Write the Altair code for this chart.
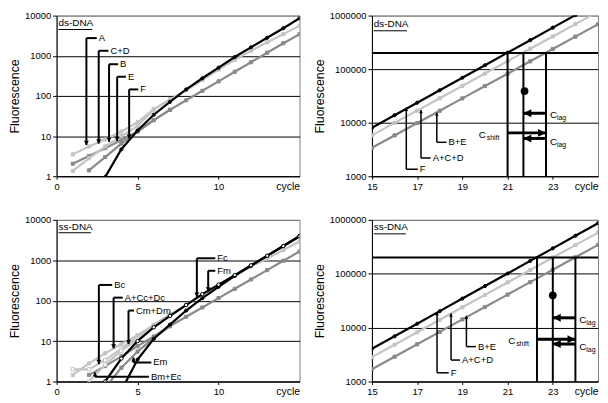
import altair as alt
import pandas as pd

FONT = "Liberation Sans"
LIGHT = "#c4c4c4"
MID = "#8a8a8a"
BLACK = "#000000"

# ---------------- Panel 1 (top-left): ds-DNA, early cycles ----------------
ds1_A_cyc = [1, 2, 3, 4, 5, 6, 7, 8, 9, 10, 11, 12, 13, 14, 15]
ds1_A_val = [3.5, 5.5, 8.2, 13, 22, 47, 82, 138, 248, 450, 790, 1330, 2150, 3450, 5600]
ds1_CD_cyc = [1, 2, 3, 4, 5, 6, 7]
ds1_CD_val = [1.36, 2.8, 5.5, 10, 18, 45, 82]
ds1_B_cyc = [1, 2, 3, 4, 5, 6, 7, 8, 9, 10, 11, 12, 13, 14, 15]
ds1_B_val = [2.05, 3.2, 5.0, 8.0, 13, 25, 45, 78, 134, 230, 400, 690, 1190, 2050, 3450]
ds1_E_cyc = [2, 3, 4, 5, 6, 7]
ds1_E_val = [1.4, 3.0, 6.5, 13, 25, 45]
ds1_F_cyc = [3, 4, 5, 6, 7, 8, 9, 10, 11, 12, 13, 14, 15]
ds1_F_val = [0.95, 4.7, 13.8, 34, 71, 145, 275, 505, 930, 1620, 2800, 4850, 8600]

ds1_arrow_label = ["A", "C+D", "B", "E", "F"]
ds1_arrow_x = [1.84, 2.6, 3.24, 3.74, 4.48]
ds1_arrow_anchor = [2750, 1330, 615, 300, 145]
ds1_arrow_tip = [6.0, 6.5, 7.2, 7.5, 8.7]
ds1_arrow_end = [2.48, 3.2, 3.8, 4.28, 5.04]

# ---------------- Panel 2 (top-right): ds-DNA, late cycles ----------------
ds2_cyc = [15, 16, 17, 18, 19, 20, 21, 22, 23, 24, 25]
ds2_F_val = [8050, 13800, 23600, 40400, 69200, 118000, 203000, 347000, 595000, 1020000, 1740000]
ds2_ACD_val = [5800, 9900, 16800, 28600, 48600, 82700, 141000, 240000, 408000, 693000, 1180000]
ds2_BE_val = [3400, 5780, 9830, 16700, 28400, 48300, 82100, 140000, 238000, 404000, 687000]

ds2_arrow_label = ["F", "A+C+D", "B+E"]
ds2_arrow_x = [16.52, 17.17, 17.87]
ds2_arrow_anchor = [1350, 2190, 4300]
ds2_arrow_tip = [18900, 17200, 15400]
ds2_arrow_end = [17.03, 17.6, 18.3]

ds2_threshold = [200000]
ds2_ct_x = [21.0, 21.7, 22.7]
ds2_dot_x = [21.75]
ds2_dot_y = [39000]
ds2_c_from = [22.7, 21.0, 22.7]
ds2_c_to = [21.7, 22.7, 21.7]
ds2_c_y = [15000, 6450, 5080]
ds2_c_label_x = [22.7, 21.0, 22.7]
ds2_c_label_y = [14000, 5970, 4440]
ds2_c_sub = ["lag", "shift", "lag"]

# ---------------- Panel 3 (bottom-left): ss-DNA, early cycles ----------------
ss1_Bc_cyc = [1, 2, 3, 4, 5, 6, 7]
ss1_Bc_val = [2.0, 2.0, 3.4, 6.5, 13, 25, 45]
ss1_ACD_cyc = [1, 2, 3, 4, 5, 6, 7, 8, 9, 10, 11, 12, 13, 14, 15]
ss1_ACD_val = [1.45, 2.8, 5.0, 8.5, 14, 25, 45, 80, 140, 245, 420, 700, 1100, 1800, 2900]
ss1_CmDm_cyc = [2, 3, 4, 5, 6, 7, 8]
ss1_CmDm_val = [1.0, 2.6, 5.8, 11, 22, 42, 80]
ss1_BmEc_cyc = [2, 3, 4, 5, 6, 7, 8, 9, 10, 11, 12, 13, 14, 15]
ss1_BmEc_val = [1.45, 2.4, 4.2, 7.5, 13, 23.5, 40, 68, 116, 197, 335, 570, 970, 1650]
ss1_Em_cyc = [3, 4, 5, 6, 7]
ss1_Em_val = [0.7, 2.2, 5.5, 12, 23.5]
ss1_Fc_cyc = [3, 4, 5, 6, 7, 8, 9, 10, 11, 12, 13, 14, 15]
ss1_Fc_val = [1.0, 3.7, 10, 22, 42, 78, 145, 250, 430, 750, 1300, 2250, 3900]
ss1_Fm_cyc = [4, 5, 6, 7, 8, 9, 10, 11, 12, 13, 14, 15]
ss1_Fm_val = [0.6, 3.5, 11.4, 25.6, 57, 115, 220, 410, 730, 1280, 2250, 4000]

ss1_down_label = ["Bc", "A+Cc+Dc", "Cm+Dm", "Fc", "Fm"]
ss1_down_x = [2.61, 3.52, 4.44, 8.66, 9.36]
ss1_down_anchor = [245, 119, 57, 1120, 550]
ss1_down_tip = [2.7, 6.6, 8.4, 125, 170]
ss1_down_end = [3.43, 4.08, 4.78, 9.8, 9.8]
ss1_up_label = ["Em", "Bm+Ec"]
ss1_up_x = [4.75, 2.37]
ss1_up_anchor = [2.95, 1.31]
ss1_up_tip = [3.9, 1.66]
ss1_up_end = [5.85, 5.7]

# ---------------- Panel 4 (bottom-right): ss-DNA, late cycles ----------------
ss2_cyc = [15, 16, 17, 18, 19, 20, 21, 22, 23, 24, 25]
ss2_F_val = [4050, 6900, 11800, 20200, 34600, 59100, 101000, 173000, 296000, 506000, 865000]
ss2_ACD_val = [2830, 4820, 8200, 14000, 23800, 40500, 69000, 117000, 200000, 340000, 580000]
ss2_BE_val = [1690, 2880, 4900, 8330, 14200, 24100, 41000, 69900, 119000, 202000, 344000]

ss2_arrow_label = ["F", "A+C+D", "B+E"]
ss2_arrow_x = [17.88, 18.5, 19.18]
ss2_arrow_anchor = [1450, 2500, 4440]
ss2_arrow_tip = [19500, 18200, 16600]
ss2_arrow_end = [18.4, 18.9, 19.6]

ss2_threshold = [200000]
ss2_ct_x = [22.3, 23.0, 24.0]
ss2_dot_x = [23.0]
ss2_dot_y = [39700]
ss2_c_from = [24.0, 22.3, 24.0]
ss2_c_to = [23.0, 24.0, 23.0]
ss2_c_y = [15200, 6080, 4960]
ss2_c_label_x = [24.0, 22.3, 24.0]
ss2_c_label_y = [13800, 5530, 4320]
ss2_c_sub = ["lag", "shift", "lag"]

# panel tags
tag_text = ["ds-DNA", "ds-DNA", "ss-DNA", "ss-DNA"]
tag_x = [0.12, 15.08, 0.12, 15.08]
tag_y = [6400, 690000, 6700, 735000]
tag_line_y = [4500, 520000, 4800, 550000]
tag_line_x2 = [2.2, 16.55, 2.12, 16.5]

x_left_ticks = [0, 5, 10]
x_right_ticks = [15, 17, 19, 21, 23]
y_left_ticks = [1, 10, 100, 1000, 10000]
y_right_ticks = [1000, 10000, 100000, 1000000]

DOWN = "M0,0L-1,-1.7L1,-1.7Z"
UP = "M0,0L-1,1.7L1,1.7Z"
LEFT = "M0,0L2,-1L2,1Z"
RIGHT = "M0,0L-2,-1L-2,1Z"


def x_enc(dom, vals, W):
    return alt.X("x:Q", scale=alt.Scale(domain=dom, nice=False, zero=False),
                 axis=alt.Axis(values=vals, format="d", title="cycle", titleX=W, titleY=5,
                               titleAlign="right", titleBaseline="top", titleFont=FONT,
                               titleFontSize=10.5, titleFontWeight="normal", titleColor="black",
                               labelFont=FONT, labelFontSize=9.5, labelColor="black",
                               labelPadding=2, labelFlush=False, labelOverlap=False,
                               tickSize=3, tickColor="black", domainColor="black", grid=False))


def y_enc(dom, vals):
    return alt.Y("y:Q", scale=alt.Scale(type="log", domain=dom, nice=False),
                 axis=alt.Axis(values=vals, format="d", title="Fluorescence", titleFont=FONT,
                               titleFontSize=12.5, titleFontWeight="normal", titleColor="black",
                               titlePadding=3, labelFont=FONT, labelFontSize=9.5,
                               labelColor="black", labelPadding=2, labelFlush=False,
                               labelOverlap=False, tickSize=4, tickColor="black",
                               domainColor="black", grid=True, gridWidth=1,
                               gridColor={"condition": {"test": "datum.value >= %d" % (dom[1] * 0.99),
                                                        "value": "#808080"},
                                          "value": "black"}))


def series_layers(series, X, Y):
    out = []
    for cyc, vals, color, shape, open_marker, msize in series:
        base = alt.Chart(pd.DataFrame({"x": cyc, "y": vals}))
        out.append(base.mark_line(color=color, strokeWidth=2.2, clip=True).encode(x=X, y=Y))
        out.append(base.mark_point(shape=shape, filled=True, fill="white" if open_marker else color,
                                   stroke=color, strokeWidth=1, size=msize, opacity=1,
                                   clip=True).encode(x=X, y=Y))
    return out


def arrow_layers(labels, xs, anchors, tips, ends, head, X, Y, sw, hsize):
    segs = pd.DataFrame({"x": xs + xs, "x2": xs + ends,
                         "y": anchors + anchors, "y2": tips + anchors})
    heads = pd.DataFrame({"x": xs, "y": tips})
    texts = pd.DataFrame({"x": ends, "y": anchors, "t": labels})
    return [
        alt.Chart(segs).mark_rule(color="black", strokeWidth=sw).encode(
            x=X, y=Y, x2=alt.X2("x2"), y2=alt.Y2("y2")),
        alt.Chart(heads).mark_point(shape=head, filled=True, color="black", size=hsize,
                                    strokeWidth=0, opacity=1).encode(x=X, y=Y),
        alt.Chart(texts).mark_text(align="left", baseline="middle", dx=2, font=FONT,
                                   fontSize=9.5, color="black").encode(x=X, y=Y, text="t:N"),
    ]


def threshold_layers(thr, ymin, ct_x, dot_x, dot_y, c_from, c_to, c_y, lab_x, lab_y, subs, X, Y):
    out = []
    out.append(alt.Chart(pd.DataFrame({"y": thr})).mark_rule(color="black", strokeWidth=2)
               .encode(y=Y))
    out.append(alt.Chart(pd.DataFrame({"x": ct_x, "y": [ymin] * len(ct_x), "y2": thr * len(ct_x)}))
               .mark_rule(color="black", strokeWidth=2).encode(x=X, y=Y, y2=alt.Y2("y2")))
    out.append(alt.Chart(pd.DataFrame({"x": dot_x, "y": dot_y}))
               .mark_circle(color="black", size=62, opacity=1).encode(x=X, y=Y))
    out.append(alt.Chart(pd.DataFrame({"x": c_from, "x2": c_to, "y": c_y}))
               .mark_rule(color="black", strokeWidth=3).encode(x=X, x2=alt.X2("x2"), y=Y))
    left = pd.DataFrame({"x": [t for f, t in zip(c_from, c_to) if t < f],
                         "y": [y for f, t, y in zip(c_from, c_to, c_y) if t < f]})
    right = pd.DataFrame({"x": [t for f, t in zip(c_from, c_to) if t > f],
                          "y": [y for f, t, y in zip(c_from, c_to, c_y) if t > f]})
    out.append(alt.Chart(left).mark_point(shape=LEFT, filled=True, color="black", size=64,
                                          strokeWidth=0, opacity=1).encode(x=X, y=Y))
    out.append(alt.Chart(right).mark_point(shape=RIGHT, filled=True, color="black", size=64,
                                           strokeWidth=0, opacity=1).encode(x=X, y=Y))
    for i in range(len(subs)):
        is_left = subs[i] == "shift"
        d = pd.DataFrame({"x": [lab_x[i]], "y": [lab_y[i]], "c": ["C"], "s": [subs[i]]})
        out.append(alt.Chart(d).mark_text(align="left", baseline="middle",
                                          dx=-29 if is_left else 4, font=FONT, fontSize=10,
                                          color="black").encode(x=X, y=Y, text="c:N"))
        out.append(alt.Chart(d).mark_text(align="left", baseline="middle",
                                          dx=-21 if is_left else 11, dy=3, font=FONT,
                                          fontSize=7, color="black").encode(x=X, y=Y, text="s:N"))
    return out


def tag_layers(i, X, Y):
    t = pd.DataFrame({"x": [tag_x[i]], "y": [tag_y[i]], "t": [tag_text[i]]})
    u = pd.DataFrame({"x": [tag_x[i]], "x2": [tag_line_x2[i]], "y": [tag_line_y[i]]})
    return [
        alt.Chart(t).mark_text(align="left", baseline="middle", font=FONT, fontSize=10,
                               color="black").encode(x=X, y=Y, text="t:N"),
        alt.Chart(u).mark_rule(color="black", strokeWidth=1).encode(x=X, x2=alt.X2("x2"), y=Y),
    ]


W1, W2 = 245, 228
H1, H2 = 162, 163

# Panel 1
X1 = x_enc([0, 15], x_left_ticks, W1)
Y1 = y_enc([1, 10000], y_left_ticks)
p1 = series_layers([
    (ds1_B_cyc, ds1_B_val, MID, "square", False, 10),
    (ds1_E_cyc, ds1_E_val, MID, "square", False, 10),
    (ds1_A_cyc, ds1_A_val, LIGHT, "square", False, 10),
    (ds1_CD_cyc, ds1_CD_val, LIGHT, "square", False, 10),
    (ds1_F_cyc, ds1_F_val, BLACK, "circle", False, 10),
], X1, Y1)
p1 += arrow_layers(ds1_arrow_label, ds1_arrow_x, ds1_arrow_anchor, ds1_arrow_tip,
                   ds1_arrow_end, DOWN, X1, Y1, 2, 25)
p1 += tag_layers(0, X1, Y1)
panel1 = alt.layer(*p1).properties(width=W1, height=H1)

# Panel 2
X2 = x_enc([15, 25], x_right_ticks, W2)
Y2 = y_enc([1000, 1000000], y_right_ticks)
p2 = series_layers([
    (ds2_cyc, ds2_BE_val, MID, "square", False, 10),
    (ds2_cyc, ds2_ACD_val, LIGHT, "square", False, 10),
    (ds2_cyc, ds2_F_val, BLACK, "circle", False, 10),
], X2, Y2)
p2 += arrow_layers(ds2_arrow_label, ds2_arrow_x, ds2_arrow_anchor, ds2_arrow_tip,
                   ds2_arrow_end, UP, X2, Y2, 1.5, 14)
p2 += threshold_layers(ds2_threshold, 1000, ds2_ct_x, ds2_dot_x, ds2_dot_y, ds2_c_from,
                       ds2_c_to, ds2_c_y, ds2_c_label_x, ds2_c_label_y, ds2_c_sub, X2, Y2)
p2 += tag_layers(1, X2, Y2)
panel2 = alt.layer(*p2).properties(width=W2, height=H1)

# Panel 3
X3 = x_enc([0, 15], x_left_ticks, W1)
Y3 = y_enc([1, 10000], y_left_ticks)
p3 = series_layers([
    (ss1_BmEc_cyc, ss1_BmEc_val, MID, "square", False, 10),
    (ss1_Em_cyc, ss1_Em_val, MID, "square", False, 10),
    (ss1_Bc_cyc, ss1_Bc_val, LIGHT, "square", True, 12),
    (ss1_CmDm_cyc, ss1_CmDm_val, LIGHT, "square", True, 12),
    (ss1_ACD_cyc, ss1_ACD_val, LIGHT, "square", False, 10),
    (ss1_Fm_cyc, ss1_Fm_val, BLACK, "circle", False, 10),
    (ss1_Fc_cyc, ss1_Fc_val, BLACK, "circle", True, 12),
], X3, Y3)
p3 += arrow_layers(ss1_down_label, ss1_down_x, ss1_down_anchor, ss1_down_tip,
                   ss1_down_end, DOWN, X3, Y3, 2, 25)
p3 += arrow_layers(ss1_up_label, ss1_up_x, ss1_up_anchor, ss1_up_tip,
                   ss1_up_end, UP, X3, Y3, 2, 20)
p3 += tag_layers(2, X3, Y3)
panel3 = alt.layer(*p3).properties(width=W1, height=H2)

# Panel 4
X4 = x_enc([15, 25], x_right_ticks, W2)
Y4 = y_enc([1000, 1000000], y_right_ticks)
p4 = series_layers([
    (ss2_cyc, ss2_BE_val, MID, "square", False, 10),
    (ss2_cyc, ss2_ACD_val, LIGHT, "square", False, 10),
    (ss2_cyc, ss2_F_val, BLACK, "circle", False, 10),
], X4, Y4)
p4 += arrow_layers(ss2_arrow_label, ss2_arrow_x, ss2_arrow_anchor, ss2_arrow_tip,
                   ss2_arrow_end, UP, X4, Y4, 1.5, 14)
p4 += threshold_layers(ss2_threshold, 1000, ss2_ct_x, ss2_dot_x, ss2_dot_y, ss2_c_from,
                       ss2_c_to, ss2_c_y, ss2_c_label_x, ss2_c_label_y, ss2_c_sub, X4, Y4)
p4 += tag_layers(3, X4, Y4)
panel4 = alt.layer(*p4).properties(width=W2, height=H2)

top = alt.hconcat(panel1, panel2, spacing=12)
bottom = alt.hconcat(panel3, panel4, spacing=12)
chart = (alt.vconcat(top, bottom, spacing=22)
         .properties(padding=0, background="white")
         .configure_view(stroke="#808080", strokeWidth=1))

chart.save("out.html", embed_options={"renderer": "svg", "actions": False})
